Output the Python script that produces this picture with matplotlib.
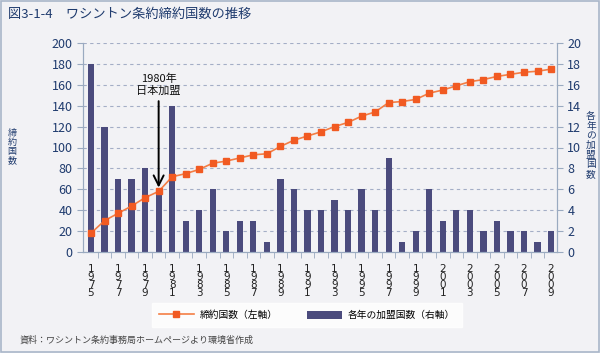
import numpy as np
import matplotlib
matplotlib.use("Agg")
from matplotlib import pyplot as plt
from matplotlib.lines import Line2D
from matplotlib.patches import Patch, Rectangle

plt.rcParams["font.family"] = ["Noto Sans CJK JP", "DejaVu Sans"]

years = np.arange(1975, 2010)
# 締約国数（左軸）
parties = [18, 30, 37, 44, 52, 58, 72, 75, 79, 85, 87, 90, 93, 94, 101, 107,
           111, 115, 120, 124, 130, 134, 143, 144, 146, 152, 155, 159, 163,
           165, 168, 170, 172, 173, 175]
# 各年の加盟国数（右軸）
joined = [18, 12, 7, 7, 8, 6, 14, 3, 4, 6, 2, 3, 3, 1, 7, 6, 4, 4, 5, 4, 6,
          4, 9, 1, 2, 6, 3, 4, 4, 2, 3, 2, 2, 1, 2]
tick_years = years[::2]

bg = "#f2f2f5"
navy = "#1f3b6e"
bar_c = "#4b4b7d"
orange = "#f15a22"
axis_c = "#9aaac0"

fig = plt.figure(figsize=(6, 3.53), dpi=100, facecolor=bg)
ax = fig.add_axes([83 / 600, 1 - 252 / 353, 474 / 600, 209 / 353])
ax2 = ax.twinx()
ax.set_zorder(ax2.get_zorder() + 1)
ax.patch.set_visible(False)
ax2.set_facecolor(bg)

# 各年の加盟国数
ax2.bar(years, joined, width=0.46, color=bar_c, zorder=2)
ax2.set_ylim(0, 20)
ax2.set_yticks(np.arange(0, 21, 2))
ax2.yaxis.grid(True, linestyle=(0, (3, 3)), color="#a4aec6", linewidth=0.8)
ax2.set_axisbelow(True)

# 締約国数
ax.plot(years, parties, color="#f47e45", linewidth=1.2, marker="s",
        markersize=5, markerfacecolor=orange, markeredgecolor=orange)
ax.set_ylim(0, 200)
ax.set_yticks(np.arange(0, 201, 20))
ax.set_xlim(1974.41, 2009.44)

ax.set_xticks(tick_years)
ax.set_xticklabels(["\n".join(str(y)) for y in tick_years], fontsize=7.5,
                   linespacing=0.75, color="#222222",
                   family=["DejaVu Sans"])
ax.set_xticks(years[:-1] + 0.5, minor=True)
ax.tick_params(axis="x", which="major", length=0, pad=9)
ax.tick_params(axis="x", which="minor", length=4, color=axis_c, direction="out")

for a in (ax, ax2):
    a.spines["top"].set_visible(False)
    for s in ("left", "right", "bottom"):
        a.spines[s].set_color(axis_c)
    a.tick_params(axis="y", labelsize=9, labelcolor=navy, color=axis_c, length=4)

ax.text(1980, 160, "1980年\n日本加盟", ha="center", va="center", fontsize=8,
        linespacing=1.1, color="#111111")
ax.annotate("", xy=(1980, 59), xytext=(1980, 147),
            arrowprops=dict(arrowstyle="->", lw=1.4, color="black",
                            mutation_scale=18))

fig.text(12 / 600, 1 - 147 / 353, "\n".join("締約国数"), ha="center",
         va="center", fontsize=6.5, color=navy, linespacing=1.0)
fig.text(591 / 600, 1 - 145 / 353, "\n".join("各年の加盟国数"), ha="center",
         va="center", fontsize=7, color=navy, linespacing=0.95)

handles = [Line2D([], [], color="#f47e45", lw=1.2, marker="s", markersize=5,
                  markerfacecolor=orange, markeredgecolor=orange),
           Patch(facecolor=bar_c)]
leg = fig.legend(handles, ["締約国数（左軸）", "各年の加盟国数（右軸）"],
                 loc="center", bbox_to_anchor=(307 / 600, 1 - 315 / 353),
                 ncol=2, frameon=True, fontsize=7, handlelength=3.6,
                 handleheight=0.9, columnspacing=3.0, borderpad=0.7,
                 handletextpad=0.6, fancybox=False)
leg.get_frame().set_facecolor("white")
leg.get_frame().set_edgecolor("white")

fig.text(8 / 600, 1 - 14 / 353, "図3-1-4　ワシントン条約締約国数の推移",
         ha="left", va="center", fontsize=9.5, color=navy)
fig.text(20 / 600, 1 - 340 / 353, "資料：ワシントン条約事務局ホームページより環境省作成",
         ha="left", va="center", fontsize=6.5, color="#444444")

fig.patches.append(Rectangle((0.001, 0.002), 0.997, 0.995, transform=fig.transFigure,
                             fill=False, edgecolor="#a9b6c9", linewidth=1.2))

fig.savefig("out.png", dpi=100, facecolor=bg)
